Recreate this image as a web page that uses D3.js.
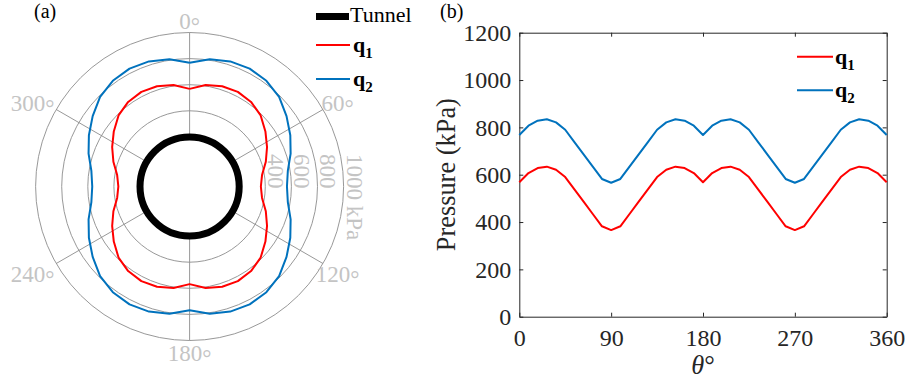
<!DOCTYPE html>
<html>
<head>
<meta charset="utf-8">
<script src="https://cdn.jsdelivr.net/npm/d3@7/dist/d3.min.js"></script>
<style>
  html, body { margin: 0; padding: 0; background: #fff; }
  svg { display: block; font-family: "Liberation Serif", "Times New Roman", serif; }
  svg text { font-family: "Liberation Serif", "Times New Roman", serif; }
</style>
</head>
<body>
<svg id="chart" width="907" height="385"></svg>
<script>
// Angle around the tunnel lining (degrees)
const angles = [0, 9, 18, 27, 36, 45, 54, 63, 72, 81, 90, 99, 108, 117, 126, 135, 144, 153, 162, 171,
  180, 189, 198, 207, 216, 225, 234, 243, 252, 261, 270, 279, 288, 297, 306, 315, 324, 333, 342, 351, 360];

// Earth pressure on the lining (kPa)
const q1 = [568, 607, 628, 634, 621, 590, 538, 486, 434, 382, 366, 382, 434, 486, 538, 590, 621, 634, 628, 607,
  568, 607, 628, 634, 621, 590, 538, 486, 434, 382, 366, 382, 434, 486, 538, 590, 621, 634, 628, 607, 568];
const q2 = [768, 807, 828, 834, 821, 790, 738, 686, 634, 582, 566, 582, 634, 686, 738, 790, 821, 834, 828, 807,
  768, 807, 828, 834, 821, 790, 738, 686, 634, 582, 566, 582, 634, 686, 738, 790, 821, 834, 828, 807, 768];

// Tunnel outline drawn at this radial value on the polar plot
const tunnelRadius = 200;

// Tick values
const polarRingTicks = [400, 600, 800, 1000];
const polarAngleTicks = [0, 60, 120, 180, 240, 300];
const pressureTicks = [0, 200, 400, 600, 800, 1000, 1200];
const angleTicks = [0, 90, 180, 270, 360];

const seriesNames = ["1", "2"];
const seriesColors = ["#ff0000", "#0072bd"];
const series = [q1, q2];

const svg = d3.select("#chart");
const axisColor = "#262626";
const lightLabel = "#c4c4c4";
const gridColor = "#8c8c8c";

// ---------- (a) polar plot ----------
const cx = 189.6, cy = 186.5;
const rScale = d3.scaleLinear().domain([-180, 1000]).range([0, 154]);
const R = rScale(1000);
const polar = svg.append("g").attr("transform", `translate(${cx},${cy})`);

// rings
polar.selectAll("circle.ring").data(polarRingTicks).join("circle")
  .attr("class", "ring")
  .attr("r", d => rScale(d))
  .attr("fill", "none").attr("stroke", gridColor).attr("stroke-width", 0.9);

// spokes
polar.selectAll("line.spoke").data(polarAngleTicks).join("line")
  .attr("class", "spoke")
  .attr("x1", d => rScale(tunnelRadius) * Math.sin(d * Math.PI / 180))
  .attr("y1", d => -rScale(tunnelRadius) * Math.cos(d * Math.PI / 180))
  .attr("x2", d => R * Math.sin(d * Math.PI / 180))
  .attr("y2", d => -R * Math.cos(d * Math.PI / 180))
  .attr("stroke", gridColor).attr("stroke-width", 0.9);

// angle labels, with a small mid-height ring as the degree mark
polarAngleTicks.forEach(a => {
  const t = a * Math.PI / 180;
  const s = Math.sin(t), c = Math.cos(t);
  const txt = polar.append("text")
    .attr("font-size", 23).attr("fill", lightLabel)
    .attr("text-anchor", "middle")
    .attr("dominant-baseline", "central");
  txt.append("tspan").text(String(a));
  txt.append("tspan").attr("dy", "0.22em").text("\u00b0");
  let px, py;
  if (Math.abs(s) < 0.01) {
    px = 0;
    py = -c * (R + 12);
  } else {
    px = s * (R + 17) + (s < 0 ? -9 : 0);
    py = -c * (R + 17) + 2;
  }
  txt.attr("x", px).attr("y", py);
});

// radial tick labels
polarRingTicks.forEach(v => {
  const x = rScale(v) + 3, y = 154 - cy;
  polar.append("text")
    .attr("font-size", 23).attr("fill", lightLabel)
    .attr("transform", `translate(${x},${y}) rotate(90)`)
    .attr("text-anchor", "start")
    .text(v === 1000 ? "1000 kPa" : String(v));
});

// tunnel outline
polar.append("circle")
  .attr("r", rScale(tunnelRadius))
  .attr("fill", "none").attr("stroke", "#000").attr("stroke-width", 7);

// pressure distributions
const radial = d3.lineRadial()
  .angle(d => d[0] * Math.PI / 180)
  .radius(d => rScale(d[1]))
  .curve(d3.curveLinear);
series.forEach((vals, i) => {
  polar.append("path")
    .datum(angles.map((a, k) => [a, vals[k]]))
    .attr("d", radial)
    .attr("fill", "none")
    .attr("stroke", seriesColors[i]).attr("stroke-width", 2)
    .attr("stroke-linejoin", "round");
});

// panel label
svg.append("text").attr("x", 34).attr("y", 18).attr("font-size", 20).attr("fill", "#000").text("(a)");

// polar legend
const legA = svg.append("g");
legA.append("line").attr("x1", 316).attr("x2", 349).attr("y1", 16.5).attr("y2", 16.5)
  .attr("stroke", "#000").attr("stroke-width", 7);
legA.append("text").attr("x", 350).attr("y", 22).attr("font-size", 22).attr("fill", "#000").text("Tunnel");
function qLabel(g, x, y, sub) {
  const t = g.append("text").attr("x", x).attr("y", y).attr("font-size", 22)
    .attr("font-weight", "bold").attr("fill", "#000");
  t.append("tspan").text("q");
  t.append("tspan").attr("dy", 6).attr("font-size", 15).text(sub);
}
series.forEach((vals, i) => {
  const y = 45 + i * 34;
  legA.append("line").attr("x1", 316).attr("x2", 350).attr("y1", y).attr("y2", y)
    .attr("stroke", seriesColors[i]).attr("stroke-width", 2);
  qLabel(legA, 353, y + 7, seriesNames[i]);
});

// ---------- (b) Cartesian plot ----------
const x = d3.scaleLinear().domain([0, 360]).range([519.3, 886.7]);
const y = d3.scaleLinear().domain([0, 1200]).range([316.7, 32.7]);

function styleAxis(g) {
  g.attr("font-family", null).attr("font-size", null);
  g.selectAll("path.domain").attr("stroke", axisColor).attr("stroke-width", 1);
  g.selectAll(".tick line").attr("stroke", axisColor).attr("stroke-width", 1);
  g.selectAll(".tick text").attr("fill", axisColor).attr("font-size", 24);
}

svg.append("g").attr("transform", `translate(0,${y(0)})`)
  .call(d3.axisBottom(x).tickValues(angleTicks).tickFormat(d3.format("d"))
    .tickSizeInner(-4).tickSizeOuter(0).tickPadding(12))
  .call(styleAxis);
svg.append("g").attr("transform", `translate(0,${y(1200)})`)
  .call(d3.axisTop(x).tickValues(angleTicks).tickSizeInner(-4).tickSizeOuter(0).tickFormat(""))
  .call(styleAxis);
svg.append("g").attr("transform", `translate(${x(0)},0)`)
  .call(d3.axisLeft(y).tickValues(pressureTicks).tickFormat(d3.format("d"))
    .tickSizeInner(-4).tickSizeOuter(0).tickPadding(8))
  .call(styleAxis);
svg.append("g").attr("transform", `translate(${x(360)},0)`)
  .call(d3.axisRight(y).tickValues(pressureTicks).tickSizeInner(-4).tickSizeOuter(0).tickFormat(""))
  .call(styleAxis);

const line = d3.line().x(d => x(d[0])).y(d => y(d[1]));
series.forEach((vals, i) => {
  svg.append("path")
    .datum(angles.map((a, k) => [a, vals[k]]))
    .attr("d", line)
    .attr("fill", "none")
    .attr("stroke", seriesColors[i]).attr("stroke-width", 2)
    .attr("stroke-linejoin", "round");
});

// axis titles
svg.append("text")
  .attr("transform", `translate(455,${(y(0) + y(1200)) / 2}) rotate(-90)`)
  .attr("text-anchor", "middle").attr("font-size", 26.4).attr("fill", axisColor)
  .text("Pressure (kPa)");
const xt = svg.append("text")
  .attr("x", (x(0) + x(360)) / 2).attr("y", 374)
  .attr("text-anchor", "middle").attr("font-size", 26.4).attr("fill", axisColor);
xt.append("tspan").attr("font-style", "italic").text("\u03b8");
xt.append("tspan").text("\u00b0");

// panel label
svg.append("text").attr("x", 440).attr("y", 18).attr("font-size", 20).attr("fill", "#000").text("(b)");

// Cartesian legend
const legB = svg.append("g");
series.forEach((vals, i) => {
  const yy = 56.7 + i * 33.6;
  legB.append("line").attr("x1", 797).attr("x2", 833).attr("y1", yy).attr("y2", yy)
    .attr("stroke", seriesColors[i]).attr("stroke-width", 2);
  qLabel(legB, 835, yy + 7, seriesNames[i]);
});
</script>
</body>
</html>
